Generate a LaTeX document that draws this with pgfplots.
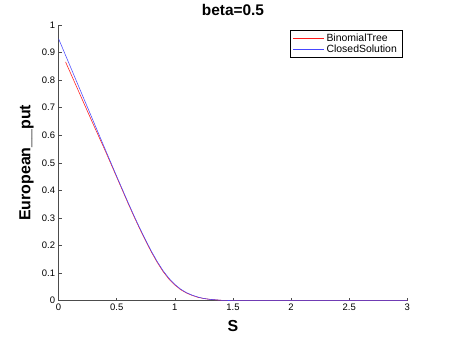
\documentclass[border=0pt]{standalone}
\usepackage{pgfplots}
\pgfplotsset{compat=1.18}
\usepackage{fontspec}
\setmainfont{Liberation Sans}

\begin{document}
\begin{tikzpicture}[x=1bp,y=1bp]
\useasboundingbox (0,0) rectangle (450,339);
\begin{axis}[
  at={(58.6bp,38.3bp)}, anchor=origin,
  scale only axis, width=348.7bp, height=275.7bp,
  xmin=0, xmax=3, ymin=0, ymax=1,
  axis x line*=bottom, axis y line*=left,
  axis line style={black!70, line width=0.6pt},
  xtick={0,0.5,...,3}, ytick={0,0.1,...,1},
  tick style={black!70, line width=0.5pt},
  tick align=inside, major tick length=3bp,
  ticklabel style={font=\fontsize{9.5}{11}\selectfont},
  /pgf/number format/assume math mode=true,
  yticklabel style={/pgf/number format/fixed, /pgf/number format/precision=1},
  every axis title shift=0pt,
  title={\fontsize{15.5}{17}\selectfont\bfseries beta=0.5},
  title style={at={(axis description cs:0.5,1.034)}, anchor=base},
  xlabel={\fontsize{16}{18}\selectfont\bfseries S},
  ylabel={\fontsize{16}{18}\selectfont\bfseries European\_\_put},
  xlabel style={at={(axis description cs:0.5,-0.110)}, anchor=base},
  ylabel style={at={(axis description cs:-0.0806,0.5)}, anchor=base},
  legend style={at={(0.985,0.982)}, anchor=north east,
    font=\fontsize{10.5}{12}\selectfont, inner xsep=3bp, inner ysep=1.5bp, row sep=-2bp},
  legend cell align=left,
  legend image code/.code={\draw[#1] (0cm,0cm) -- (1.1cm,0cm);},
]
\addplot[draw=red!90, line width=0.55pt] coordinates {
  (0.06,0.866) (0.1,0.828) (0.2,0.733) (0.3,0.638) (0.4,0.545) (0.5,0.448)
  (0.6,0.351) (0.65,0.304) (0.7,0.259) (0.75,0.216) (0.8,0.175) (0.85,0.138)
  (0.9,0.105) (0.95,0.078) (1.0,0.057) (1.05,0.040) (1.1,0.028) (1.15,0.019)
  (1.2,0.012) (1.25,0.008) (1.3,0.005) (1.4,0.0015) (1.5,0.0003) (1.6,0) (3,0)
};
\addlegendentry{BinomialTree}
\addplot[draw={rgb,255:red,70;green,70;blue,255}, line width=0.55pt] coordinates {
  (0,0.95) (0.05,0.90) (0.1,0.85) (0.2,0.75) (0.3,0.65) (0.4,0.55) (0.5,0.451)
  (0.6,0.354) (0.65,0.307) (0.7,0.262) (0.75,0.219) (0.8,0.178) (0.85,0.141)
  (0.9,0.108) (0.95,0.081) (1.0,0.059) (1.05,0.042) (1.1,0.029) (1.15,0.020)
  (1.2,0.013) (1.25,0.008) (1.3,0.005) (1.4,0.0015) (1.5,0.0003) (1.6,0) (3,0)
};
\addlegendentry{ClosedSolution}
\end{axis}
\end{tikzpicture}
\end{document}
